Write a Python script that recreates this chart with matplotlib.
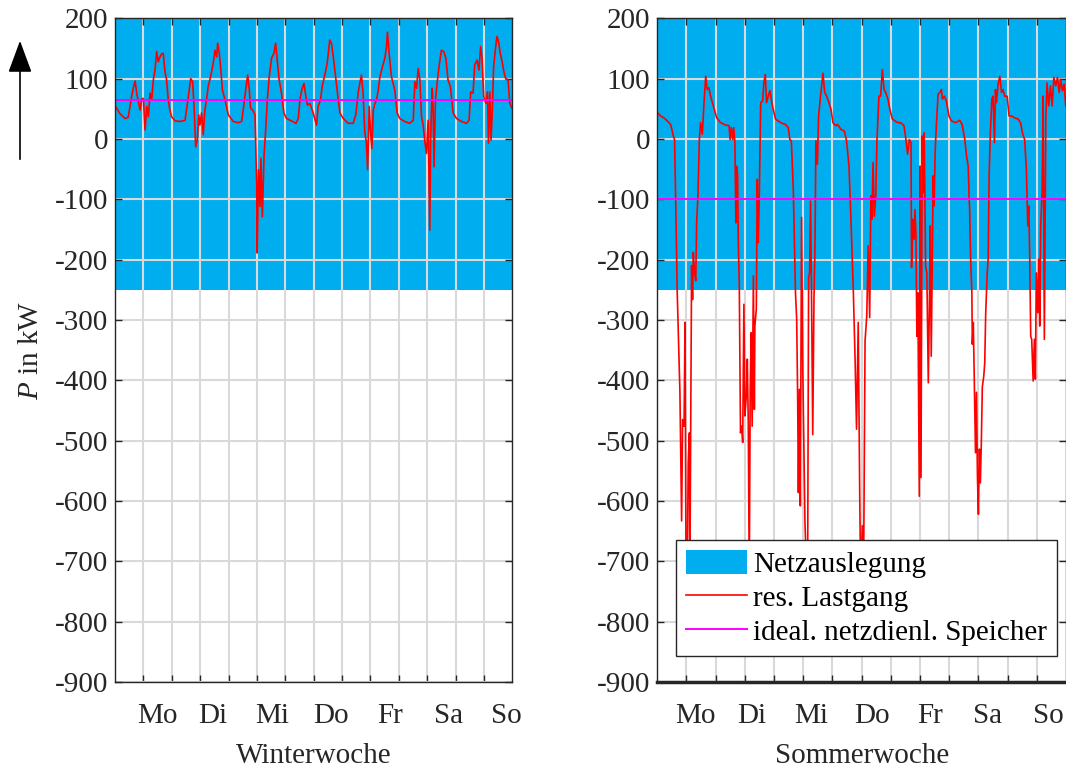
import numpy as np
import matplotlib
matplotlib.use("Agg")
import matplotlib.pyplot as plt
from matplotlib.patches import FancyArrowPatch

plt.rcParams['font.family'] = ['Liberation Serif', 'DejaVu Serif']
plt.rcParams['mathtext.fontset'] = 'custom'
plt.rcParams['mathtext.it'] = 'Liberation Serif:italic'
plt.rcParams['mathtext.rm'] = 'Liberation Serif'
plt.rcParams['axes.unicode_minus'] = False

# residual load, winter week (hours, kW)
winter_h = [0.0, 2.1, 4.2, 5.6, 7.0, 7.7, 8.5, 9.2, 10.6, 11.3, 12.0, 12.7, 13.4, 14.1, 14.8,
            15.5, 16.2, 16.9, 17.6, 18.3, 19.0, 19.7, 20.4, 21.1, 21.8, 22.5, 23.2, 23.9, 25.4,
            27.5, 29.6, 31.0, 32.0, 32.8, 33.5, 34.1, 34.8, 35.4, 35.9, 36.6, 37.3, 38.0, 38.7,
            39.4, 40.4, 41.5, 42.3, 43.0, 43.4, 44.1, 44.8, 45.4, 46.5, 47.9, 50.0, 52.1, 53.5,
            54.2, 55.4, 56.1, 56.8, 57.3, 58.2, 59.2, 59.9, 60.1, 60.7, 61.3, 61.7, 62.3, 63.0,
            63.7, 64.4, 65.2, 66.2, 67.2, 67.9, 68.6, 69.4, 70.4, 71.4, 72.5, 74.6, 76.5, 77.5,
            78.2, 79.0, 79.9, 80.7, 81.4, 82.4, 83.8, 85.2, 85.9, 86.9, 87.6, 88.7, 89.7, 90.8,
            91.5, 92.3, 93.4, 94.4, 95.1, 96.5, 98.6, 100.7, 101.8, 102.8, 103.5, 104.2, 104.9,
            105.6, 106.3, 106.8, 107.5, 108.0, 108.6, 109.2, 109.9, 110.6, 111.3, 112.0, 113.1,
            114.1, 114.8, 115.2, 115.9, 116.9, 118.3, 119.3, 120.4, 122.5, 124.6, 126.1, 126.8,
            127.5, 128.2, 128.9, 129.6, 130.3, 131.0, 131.7, 132.4, 133.1, 133.5, 134.1, 134.5,
            134.9, 135.5, 136.2, 137.0, 138.0, 139.0, 139.9, 140.8, 141.8, 143.0, 144.4, 146.5,
            148.6, 149.7, 150.4, 151.4, 152.1, 153.1, 153.9, 154.6, 155.2, 155.9, 156.8, 157.5,
            157.9, 158.5, 159.0, 159.6, 160.1, 160.8, 161.5, 162.2, 162.9, 163.7, 164.4, 165.2,
            166.2, 166.9, 167.9]
winter_p = [55, 42, 34, 36, 70, 84, 96, 75, 48, 67, 67, 15, 54, 37, 76,
            65, 98, 114, 145, 128, 136, 141, 142, 112, 98, 65, 48, 37, 30,
            29, 31, 70, 100, 95, 48, -13, -2, 40, 23, 43, 7, 48, 65,
            87, 103, 125, 147, 136, 159, 142, 112, 81, 65, 40, 29, 27, 29,
            48, 86, 106, 81, 51, 48, 40, -76, -189, -51, -112, -32, -129, -29,
            15, 65, 103, 134, 142, 159, 131, 98, 76, 43, 34, 30, 26, 34,
            65, 82, 92, 70, 56, 59, 43, 23, 54, 65, 87, 106, 125, 164,
            159, 136, 98, 65, 43, 34, 26, 26, 40, 76, 92, 106, 76,
            12, -7, -51, 54, 15, -16, 48, 59, 65, 81, 103, 120,
            134, 153, 177, 142, 103, 81, 43, 34, 29, 26, 31, 95,
            84, 117, 98, 37, 23, -4, -24, 31, -151, 9, 84, 54,
            -46, 65, 92, 120, 147, 145, 134, 98, 87, 43, 34, 29,
            26, 31, 78, 76, 123, 131, 114, 153, 134, 70, 59, 78,
            -7, 78, -2, 54, 120, 147, 170, 161, 142, 128, 112, 100,
            98, 59, 51]

# residual load, summer week
summer_h = [0.0, 1.4, 2.7, 4.1, 5.5, 6.6, 7.1, 7.5, 8.2, 9.3, 10.0, 10.4, 11.0, 11.4, 11.8,
            12.3, 12.7, 13.2, 13.4, 14.1, 14.5, 14.8, 15.3, 15.8, 16.2, 16.7, 17.3, 17.8, 18.5,
            19.2, 19.9, 20.5, 21.2, 21.9, 23.0, 24.4, 26.0, 28.1, 29.5, 29.9, 30.4, 31.0, 31.4,
            31.9, 32.3, 32.6, 33.0, 33.3, 33.7, 34.0, 34.2, 34.7, 35.1, 35.6, 36.0, 36.6, 37.0,
            37.4, 37.8, 38.2, 38.6, 39.0, 39.5, 39.9, 40.1, 40.7, 41.1, 41.5, 41.9, 42.5, 43.3,
            43.8, 44.4, 44.9, 45.6, 46.3, 47.3, 48.6, 50.7, 52.7, 53.8, 54.5, 55.1, 55.9, 56.8,
            57.3, 57.7, 58.0, 58.4, 58.8, 59.3, 59.8, 60.2, 60.7, 61.3, 61.8, 62.2, 62.6, 63.0,
            63.4, 63.9, 64.4, 64.8, 65.2, 65.8, 66.3, 67.1, 68.1, 68.8, 69.6, 70.6, 71.4, 72.2,
            73.3, 74.1, 75.5, 76.9, 77.8, 78.8, 79.6, 80.6, 81.3, 81.9, 82.6, 83.2, 83.6, 84.3,
            84.8, 85.4, 86.1, 86.7, 87.3, 87.8, 88.2, 88.7, 89.2, 89.8, 90.3, 91.1, 91.8, 92.5,
            93.2, 93.9, 94.8, 95.6, 96.6, 98.4, 100.4, 101.4, 102.2, 102.9, 103.6, 104.3, 104.5,
            105.1, 105.5, 105.9, 106.3, 106.7, 107.1, 107.7, 108.0, 108.4, 108.9, 109.3, 109.7,
            110.3, 110.8, 111.4, 111.8, 112.2, 112.6, 113.1, 113.4, 113.8, 114.2, 114.7, 115.4,
            116.1, 116.8, 117.2, 118.0, 118.8, 119.9, 120.9, 122.7, 124.3, 125.3, 126.4, 127.1,
            127.8, 128.2, 128.4, 128.8, 129.3, 129.5, 129.9, 130.4, 130.8, 131.2, 131.6, 132.0,
            132.4, 132.8, 133.2, 133.6, 134.2, 134.6, 135.0, 135.6, 136.0, 136.4, 136.9, 137.5,
            138.0, 138.6, 139.0, 139.4, 140.1, 140.8, 141.5, 142.1, 142.8, 143.8, 144.6, 145.6,
            146.9, 148.3, 149.3, 150.1, 151.0, 151.7, 152.3, 152.7, 153.1, 153.5, 153.9, 154.5,
            155.0, 155.4, 155.8, 156.4, 156.8, 157.2, 157.6, 158.2, 158.6, 159.1, 159.7, 160.2,
            160.9, 161.6, 162.3, 163.0, 163.8, 164.5, 165.2, 165.8, 166.5, 167.2, 167.9]
summer_p = [44, 38, 35, 30, 24, 5, -1, -89, -255, -420, -633, -465, -476, -304, -700,
            -740, -539, -487, -720, -210, -266, -188, -222, -235, -136, -94, 0, 27, 8,
            60, 104, 82, 85, 71, 55, 35, 27, 23, 22, -1, 19, -1, 19,
            -6, -139, -45, -59, -172, -241, -387, -487, -476, -503, -274, -459, -426, -365,
            -470, -730, -415, -321, -476, -227, -448, -310, -282, -67, -172, -100, 60, 63,
            93, 107, 60, 71, 80, 55, 33, 27, 24, 19, -1, -3, -83, -255,
            -299, -431, -586, -415, -608, -130, -382, -490, -636, -710, -720, -230, -222, -103,
            -255, -490, -266, -183, -3, -42, 38, 71, 109, 77, 71, 60, 49, 27,
            22, 24, 16, 13, -3, -45, -133, -255, -365, -481, -304, -586, -730, -641,
            -720, -335, -293, -177, -296, -94, -133, -39, -128, -94, -1, 71, 71, 115,
            82, 77, 66, 49, 33, 28, 26, 22, -1, -25, -1, -6, -213,
            -133, -166, -117, -155, -327, -255, -592, -45, -561, 5, -89, 10,
            -211, -222, -404, -288, -144, -360, -166, -61, -111, -23, 22, 74,
            77, 82, 66, 71, 63, 38, 30, 27, 31, 24, -1, -28,
            -45, -100, -117, -199, -255, -340, -304, -420, -520, -420, -559, -622,
            -514, -570, -503, -411, -393, -371, -288, -222, -199, -61, 10, 66,
            71, -6, 82, 60, 91, 104, 77, 82, 71, 71, 38, 38,
            35, 33, 27, 10, -1, -50, -144, -111, -199, -327, -332, -401,
            -332, -398, -222, -288, -199, -310, -144, -83, 71, -332, 33, 93,
            55, 88, 55, 102, 88, 102, 77, 99, 80, 91, 55]

storage_winter = 65
storage_summer = -100
grid_lo, grid_hi = -250, 200

days = ['Mo', 'Di', 'Mi', 'Do', 'Fr', 'Sa', 'So']
day_pos_winter = [17.8, 41.5, 66.4, 91.4, 116.4, 140.9, 165.3]
day_pos_summer = [15.6, 39.0, 63.1, 88.1, 112.0, 135.7, 160.8]
grid_hours = np.arange(12, 168, 12)
yticks = np.arange(-900, 201, 100)

blue = '#00AEEF'
ink = '#262626'
fsz = 21

fig = plt.figure(figsize=(10.66, 7.69), dpi=100)
ax1 = fig.add_axes([0.1079, 0.1131, 0.3727, 0.8631])
ax2 = fig.add_axes([0.6166, 0.1131, 0.3834, 0.8631])

panels = [(ax1, winter_h, winter_p, storage_winter, day_pos_winter, 'Winterwoche'),
          (ax2, summer_h, summer_p, storage_summer, day_pos_summer, 'Sommerwoche')]

for ax, hh, pp, st, dpos, name in panels:
    ax.fill_between([0, 168], [grid_lo, grid_lo], [grid_hi, grid_hi],
                    facecolor=blue, edgecolor='none', zorder=1, label='Netzauslegung')
    ax.plot(hh, pp, color='#FF0000', lw=1.2, zorder=3, label='res. Lastgang')
    ax.plot([0, 168], [st, st], color='#FF00FF', lw=1.4, zorder=3,
            label='ideal. netzdienl. Speicher')
    ax.set_xlim(0, 168)
    ax.set_ylim(-900, 200)
    ax.set_axisbelow(False)
    ax.set_yticks(yticks)
    ax.set_xticks(grid_hours)
    ax.set_xticklabels([])
    ax.set_xticks(dpos, minor=True)
    ax.set_xticklabels(days, minor=True)
    ax.grid(True, which='major', color='#D9D9D9', lw=1.5)
    ax.tick_params(which='major', direction='in', top=True, right=True, length=5,
                   width=1, color=ink, labelsize=fsz, labelcolor=ink, pad=5)
    ax.tick_params(which='minor', axis='x', length=0, labelsize=fsz, labelcolor=ink, pad=15)
    for s in ax.spines.values():
        s.set_color(ink)
        s.set_linewidth(1.0)
        s.set_zorder(4)
    ax.set_xlabel(name, fontsize=fsz, color=ink, labelpad=10)

ax2.spines['bottom'].set_linewidth(2.5)

ax1.set_ylabel('$P$ in kW', fontsize=fsz, color=ink, labelpad=8)

leg = ax2.legend(loc='lower right', bbox_to_anchor=(0.978, 0.039), borderaxespad=0,
                 fontsize=fsz, frameon=True, fancybox=False, framealpha=1,
                 edgecolor=ink, handlelength=2.1, handleheight=0.9,
                 handletextpad=0.2, labelspacing=0.2, borderpad=0.35)
leg.get_frame().set_linewidth(1.0)
leg.set_zorder(6)

arrow = FancyArrowPatch((20 / 1066, 1 - 162 / 769), (20 / 1066, 1 - 38 / 769),
                        transform=fig.transFigure, arrowstyle='-|>,head_length=1.0,head_width=0.37',
                        mutation_scale=20, color='black', lw=1.2)
fig.add_artist(arrow)

fig.savefig('out.png', dpi=100)
